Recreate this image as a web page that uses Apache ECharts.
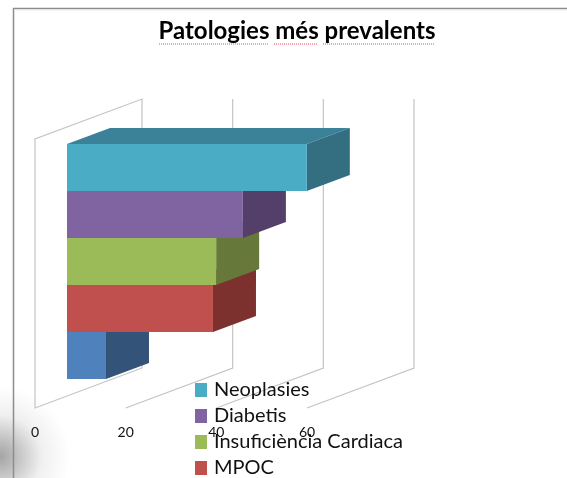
<!DOCTYPE html>
<html lang="ca">
    <head>
        <meta charset="UTF-8">
        <title>Patologies més prevalents</title>
        <style>
            *{
                margin: 0;
                padding: 0;
            }
            #chart{
                width: 567px;
                height: 478px;
            }
        </style>
        <script src="https://cdn.jsdelivr.net/npm/echarts@6/dist/echarts.min.js"></script>
    </head>
    <body>
        <div id="chart"></div>
        <script>
            // data, top bar first
            var categories = ['Neoplasies', 'Diabetis', 'Insuficiència Cardiaca', 'MPOC', 'Altres'];
            var values = [52.9, 38.8, 32.9, 32.2, 8.6];
            var axisTicks = [0, 20, 40, 60];
            var legendNames = ['Neoplasies', 'Diabetis', 'Insuficiència Cardiaca', 'MPOC'];

            // front, top and side colours of each bar
            var frontColors = ['#4BACC6', '#8064A2', '#9BBB59', '#C0504D', '#4F81BD'];
            var topColors = ['#3B8299', '#5F4A7A', '#748C42', '#8F3C3A', '#3A5F8C'];
            var sideColors = ['#336F80', '#533F69', '#67793A', '#7D312F', '#335478'];

            var FONT = 'Lato';

            // fake 3d: how far the walls and the bars go back
            var wallDepth = [107, -40];
            var barDepth = [43, -16];

            function renderWall(params, api) {
                var tick = api.value(0);
                var bottom = api.coord([tick, 0]);
                var top = api.coord([tick, 1]);
                var backBottom = [bottom[0] + wallDepth[0], bottom[1] + wallDepth[1]];
                var backTop = [top[0] + wallDepth[0], top[1] + wallDepth[1]];
                var points = [bottom, backBottom, backTop];
                // the left wall is closed
                if (tick === 0) {
                    points = [backBottom, bottom, top, backTop, backBottom];
                }
                return {
                    type: 'polyline',
                    shape: {points: points},
                    style: {fill: null, stroke: '#C4C4C4', lineWidth: 1.2}
                };
            }

            function renderBar(params, api) {
                var idx = api.value(1);
                var start = api.coord([0, idx]);
                var end = api.coord([api.value(0), idx]);
                var h = api.size([0, 1])[1];
                var x0 = start[0], x1 = end[0];
                var y0 = start[1] - h / 2, y1 = start[1] + h / 2;
                var dx = barDepth[0], dy = barDepth[1];
                return {
                    type: 'group',
                    children: [{
                        type: 'polygon',
                        shape: {points: [[x0, y0], [x0 + dx, y0 + dy], [x1 + dx, y0 + dy], [x1, y0]]},
                        style: {fill: topColors[idx]}
                    }, {
                        type: 'polygon',
                        shape: {points: [[x1, y0], [x1 + dx, y0 + dy], [x1 + dx, y1 + dy], [x1, y1]]},
                        style: {fill: sideColors[idx]}
                    }, {
                        type: 'rect',
                        shape: {x: x0, y: y0, width: x1 - x0, height: y1 - y0},
                        style: {fill: frontColors[idx]}
                    }]
                };
            }

            var series = [{
                name: 'walls',
                type: 'custom',
                xAxisIndex: 0,
                yAxisIndex: 0,
                clip: false,
                silent: true,
                z: 1,
                renderItem: renderWall,
                data: axisTicks.map(function (t) { return [t, 0]; })
            }];

            // lowest bar first so every bar covers the side of the one under it
            for (var i = categories.length - 1; i >= 0; i--) {
                series.push({
                    name: categories[i],
                    type: 'custom',
                    xAxisIndex: 1,
                    yAxisIndex: 1,
                    clip: false,
                    z: 2,
                    itemStyle: {color: frontColors[i]},
                    encode: {x: 0, y: 1},
                    renderItem: renderBar,
                    data: [[values[i], i]]
                });
            }

            // red dots under each word of the title
            var spellMarks = [[159, 269], [274, 318], [323, 435]].map(function (m) {
                return {
                    type: 'line',
                    z: 5,
                    silent: true,
                    shape: {x1: m[0], y1: 44, x2: m[1], y2: 44},
                    style: {stroke: '#E8505A', lineWidth: 1.2, lineDash: [1, 1]}
                };
            });

            var chart = echarts.init(document.getElementById('chart'));
            chart.setOption({
                animation: false,
                backgroundColor: '#fff',
                title: {
                    text: 'Patologies més prevalents',
                    left: 297,
                    top: 19,
                    padding: 0,
                    textAlign: 'center',
                    textStyle: {fontFamily: FONT, fontSize: 24, fontWeight: 'bold', color: '#000'}
                },
                legend: {
                    data: legendNames,
                    orient: 'vertical',
                    left: 195,
                    top: 380,
                    height: 120,
                    padding: 0,
                    itemWidth: 12,
                    itemHeight: 14,
                    itemGap: 6,
                    icon: 'rect',
                    selectedMode: false,
                    textStyle: {fontFamily: FONT, fontSize: 20, color: '#111', padding: [0, 0, 0, 2]}
                },
                grid: [
                    {left: 35, width: 272, top: 139, height: 269},
                    {left: 67, width: 272, top: 144, height: 235}
                ],
                xAxis: [{
                    type: 'value',
                    gridIndex: 0,
                    min: 0,
                    max: 60,
                    interval: 20,
                    axisLine: {show: false},
                    axisTick: {show: false},
                    splitLine: {show: false},
                    axisLabel: {fontFamily: FONT, fontSize: 14, color: '#111', margin: 17, showMaxLabel: true}
                }, {
                    type: 'value',
                    gridIndex: 1,
                    min: 0,
                    max: 60,
                    show: false
                }],
                yAxis: [{
                    type: 'value',
                    gridIndex: 0,
                    min: 0,
                    max: 1,
                    show: false
                }, {
                    type: 'category',
                    gridIndex: 1,
                    inverse: true,
                    data: categories,
                    show: false
                }],
                graphic: [
                    // grey shade in the bottom left corner
                    {
                        type: 'rect',
                        z: -1,
                        silent: true,
                        shape: {x: 0, y: 370, width: 70, height: 108},
                        style: {
                            fill: new echarts.graphic.RadialGradient(0, 0.8, 1, [
                                {offset: 0, color: '#a4a4a4'},
                                {offset: 0.2, color: '#bcbcbc'},
                                {offset: 0.6, color: '#f0f0f0'},
                                {offset: 1, color: '#ffffff'}
                            ])
                        }
                    },
                    // frame of the slide
                    {
                        type: 'polyline',
                        z: -1,
                        silent: true,
                        shape: {points: [[13.5, 478], [13.5, 8.5], [567, 8.5]]},
                        style: {fill: null, stroke: '#8C8C8C', lineWidth: 1.5}
                    },
                    {
                        type: 'line',
                        z: -1,
                        silent: true,
                        shape: {x1: 14, y1: 10, x2: 567, y2: 10},
                        style: {stroke: '#E8E8E8', lineWidth: 1}
                    }
                ].concat(spellMarks),
                series: series
            });

            window.onresize = function () {
                chart.resize();
            };
        </script>
    </body>
</html>
